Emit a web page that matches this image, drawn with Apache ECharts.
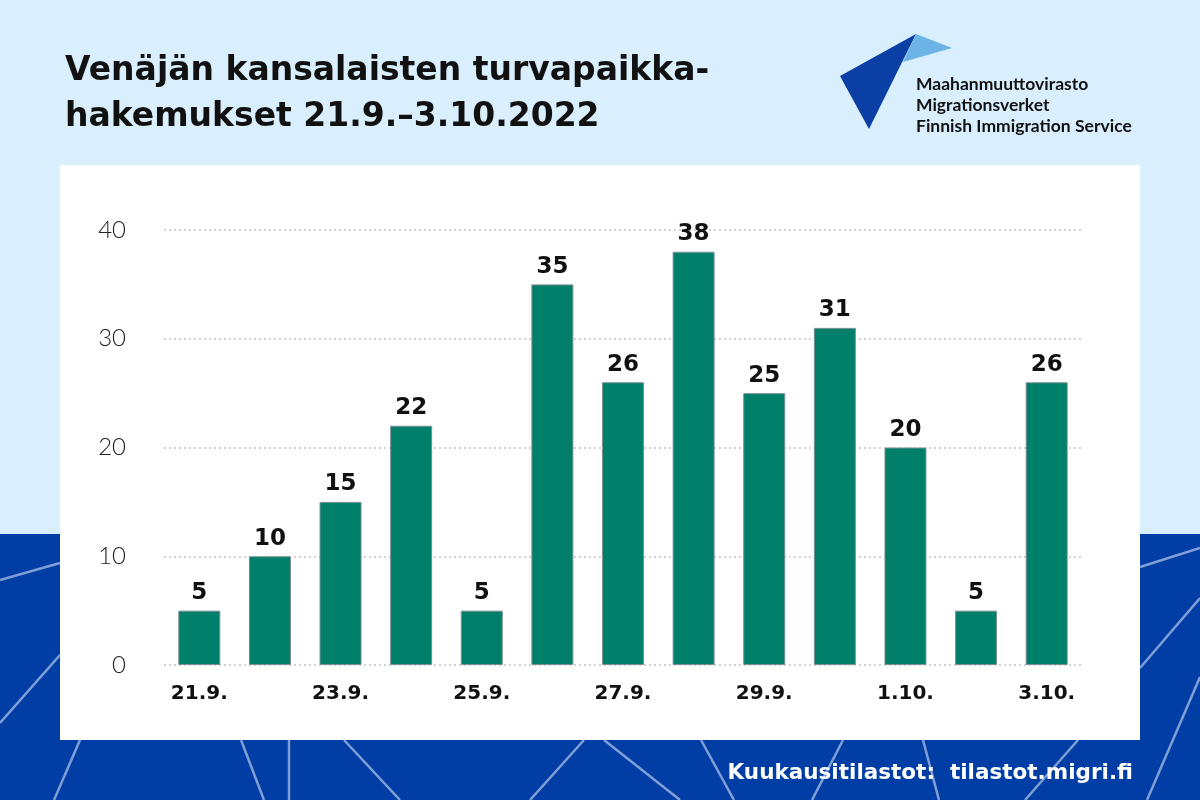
<!DOCTYPE html>
<html>
<head>
<meta charset="utf-8">
<script src="https://cdn.jsdelivr.net/npm/echarts@6/dist/echarts.min.js"></script>
<style>
  html, body { margin: 0; padding: 0; }
  #chart { width: 1200px; height: 800px; }
</style>
</head>
<body>
<div id="chart"></div>
<script>
// chart data
const categories = ['21.9.', '22.9.', '23.9.', '24.9.', '25.9.', '26.9.', '27.9.',
  '28.9.', '29.9.', '30.9.', '1.10.', '2.10.', '3.10.']
const applications = [5, 10, 15, 22, 5, 35, 26, 38, 25, 31, 20, 5, 26]
const yTicks = [0, 10, 20, 30, 40]

const titleText = 'Venäjän kansalaisten turvapaikka-\nhakemukset 21.9.–3.10.2022'
const logoLines = ['Maahanmuuttovirasto', 'Migrationsverket', 'Finnish Immigration Service']
const sourceText = 'Kuukausitilastot:  tilastot.migri.fi'

const FONT = 'Lato, "Noto Sans", sans-serif'
const WIDE = '"DejaVu Sans", Lato, sans-serif'

// decorative lines on the dark band
const decoLines = [
  [0, 580, 60, 563], [0, 723, 60, 655], [80, 740, 54, 800], [241, 740, 264, 800],
  [289, 740, 289, 800], [344, 740, 400, 800], [584, 740, 530, 800], [604, 740, 680, 800],
  [701, 740, 734, 800], [843, 740, 812, 800], [923, 740, 939, 800], [1078, 740, 1025, 800],
  [1140, 567, 1200, 548], [1140, 668, 1200, 598], [1200, 677, 1147, 800]
]

const chart = echarts.init(document.getElementById('chart'))

const graphics = [
  { type: 'rect', z: -20, shape: { x: 0, y: 0, width: 1200, height: 534 }, style: { fill: '#d9effd' } },
  { type: 'rect', z: -20, shape: { x: 0, y: 534, width: 1200, height: 266 }, style: { fill: '#003da5' } }
]
decoLines.forEach(l => {
  graphics.push({
    type: 'line', z: -15,
    shape: { x1: l[0], y1: l[1], x2: l[2], y2: l[3] },
    style: { stroke: '#7f9fd6', lineWidth: 2.5 }
  })
})
graphics.push(
  { type: 'rect', z: -10, shape: { x: 60, y: 165, width: 1080, height: 575 }, style: { fill: '#ffffff' } },
  // logo
  { type: 'polygon', z: 50, shape: { points: [[840, 76], [916, 34], [869, 129]] }, style: { fill: '#0a3fa6' } },
  { type: 'polygon', z: 50, shape: { points: [[916, 34], [952, 48], [903, 62]] }, style: { fill: '#6cb4e8' } }
)
logoLines.forEach((t, i) => {
  graphics.push({
    type: 'text', z: 50, x: 916, y: 84 + i * 21,
    style: { text: t, fill: '#111', font: 'bold 17.5px ' + FONT, textVerticalAlign: 'middle' }
  })
})
graphics.push({
  type: 'text', z: 50, x: 1133, y: 773,
  style: { text: sourceText, fill: '#ffffff', font: 'bold 21.5px ' + WIDE, textAlign: 'right', textVerticalAlign: 'middle' }
})

chart.setOption({
  backgroundColor: '#d9effd',
  animation: false,
  title: {
    text: titleText,
    left: 60,
    top: 43,
    textStyle: {
      fontFamily: WIDE,
      fontWeight: 'bold',
      fontSize: 33,
      lineHeight: 46,
      color: '#111'
    }
  },
  graphic: graphics,
  grid: {
    left: 164,
    right: 118,
    top: 230,
    bottom: 135
  },
  xAxis: {
    type: 'category',
    data: categories,
    axisLine: { show: false },
    axisTick: { show: false },
    axisLabel: {
      interval: 1,
      margin: 19,
      color: '#111',
      fontFamily: WIDE,
      fontWeight: 'bold',
      fontSize: 20
    }
  },
  yAxis: {
    type: 'value',
    min: yTicks[0],
    max: yTicks[yTicks.length - 1],
    interval: 10,
    axisLine: { show: false },
    axisTick: { show: false },
    axisLabel: {
      margin: 38,
      color: '#222',
      fontFamily: FONT,
      fontWeight: 300,
      fontSize: 24
    },
    splitLine: {
      lineStyle: { color: '#c4c4c4', type: [2, 3], width: 1.5 }
    }
  },
  series: [
    {
      type: 'bar',
      data: applications,
      barWidth: 42,
      itemStyle: {
        color: '#00806b',
        borderColor: '#7c8f95',
        borderWidth: 1
      },
      label: {
        show: true,
        position: 'top',
        distance: 6,
        color: '#111',
        fontFamily: WIDE,
        fontWeight: 'bold',
        fontSize: 23
      }
    }
  ]
})
</script>
</body>
</html>
